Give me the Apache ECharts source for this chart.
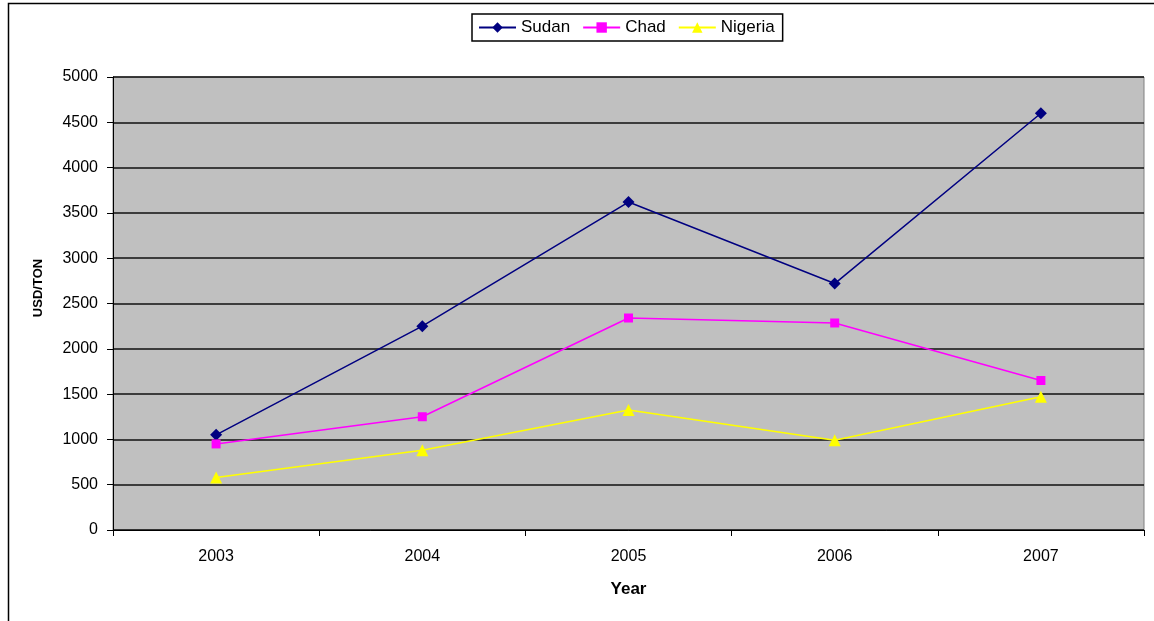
<!DOCTYPE html>
<html>
<head>
<meta charset="utf-8">
<script src="https://cdn.jsdelivr.net/npm/echarts@6/dist/echarts.min.js"></script>
<style>
  html, body { margin: 0; padding: 0; background: #fff; }
  #chart { width: 1154px; height: 621px; }
</style>
</head>
<body>
<div id="chart"></div>
<script>
// data
const years = ["2003", "2004", "2005", "2006", "2007"];
const sudan = [1050, 2250, 3620, 2720, 4600];
const chad = [950, 1250, 2340, 2285, 1650];
const nigeria = [580, 880, 1325, 990, 1470];

const chart = echarts.init(document.getElementById("chart"));

function lineSeries(name, data, color, symbol, size) {
  return {
    name: name,
    type: "line",
    data: data,
    symbol: symbol,
    symbolSize: size,
    showAllSymbol: true,
    lineStyle: { color: color, width: 1.5 },
    itemStyle: { color: color },
  };
}

chart.setOption({
  animation: false,
  textStyle: { fontFamily: "Liberation Sans, Arial, sans-serif" },
  graphic: [
    {
      // outer chart frame (right/bottom run off the picture)
      type: "rect",
      shape: { x: 8.5, y: 3.5, width: 1160, height: 640 },
      style: { fill: "none", stroke: "#000", lineWidth: 1.5 },
      z: -1,
    },
    {
      type: "text",
      x: 38,
      y: 288,
      rotation: Math.PI / 2,
      style: {
        text: "USD/TON",
        fill: "#000",
        font: "bold 13px Liberation Sans, Arial, sans-serif",
        align: "center",
        verticalAlign: "middle",
      },
    },
  ],
  legend: {
    top: 14,
    left: 472,
    padding: [5, 8, 5, 6],
    borderColor: "#000",
    borderWidth: 1.5,
    itemWidth: 37,
    itemHeight: 13,
    itemGap: 12,
    textStyle: { color: "#000", fontSize: 17 },
    data: ["Sudan", "Chad", "Nigeria"],
  },
  grid: {
    left: 113,
    right: 10,
    top: 77,
    bottom: 91,
    show: true,
    backgroundColor: "#c0c0c0",
    borderColor: "#808080",
    borderWidth: 1,
  },
  xAxis: {
    type: "category",
    data: years,
    boundaryGap: true,
    name: "Year",
    nameLocation: "middle",
    nameGap: 51,
    nameTextStyle: { color: "#000", fontSize: 17, fontWeight: "bold" },
    axisLine: { lineStyle: { color: "#000", width: 1 } },
    axisTick: { show: true, length: 6, lineStyle: { color: "#000" } },
    axisLabel: { color: "#000", fontSize: 16, margin: 19 },
  },
  yAxis: {
    type: "value",
    min: 0,
    max: 5000,
    interval: 500,
    axisLine: { show: true, lineStyle: { color: "#000", width: 1 } },
    axisTick: { show: true, length: 6, lineStyle: { color: "#000" } },
    axisLabel: {
      color: "#000",
      fontSize: 16,
      margin: 15,
      formatter: (v) => String(v),
    },
    splitLine: { show: true, lineStyle: { color: "#111", width: 1.5 } },
  },
  series: [
    lineSeries("Sudan", sudan, "#000080", "diamond", 12),
    lineSeries("Chad", chad, "#ff00ff", "rect", 9),
    lineSeries("Nigeria", nigeria, "#ffff00", "triangle", 12),
  ],
});
</script>
</body>
</html>
